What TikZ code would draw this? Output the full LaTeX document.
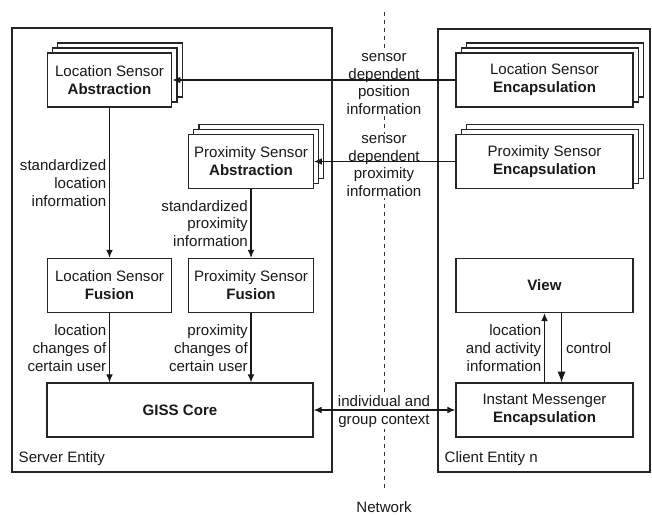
\documentclass[tikz,border=0pt]{standalone}
\usepackage{fontspec}
\setmainfont{Liberation Sans}
\usetikzlibrary{arrows.meta,shadows}

\begin{document}
\begin{tikzpicture}[x=0.75pt, y=-0.75pt,
    every node/.style={font=\fontsize{11.3}{13.4}\selectfont, align=center, text=black!90},
    block/.style={draw=black!85, line width=0.9pt, fill=white, minimum width=93.5pt, minimum height=40.5pt, inner sep=1pt},
    wideblock/.style={block, minimum width=132.75pt},
    stack/.style={double copy shadow={shadow xshift=3.9pt, shadow yshift=3.75pt}},
    frame/.style={draw=black!85, line width=0.9pt},
    flow/.style={-{Latex[length=6pt,width=5pt]}, draw=black!90, line width=0.85pt},
    lbl/.style={fill=white, inner sep=1pt}]
    \useasboundingbox (0,0) rectangle (652,514);

    % Entities
    \draw[frame] (12,28) rectangle (332,472);
    \draw[frame] (438,29) rectangle (650,472);
    \node[anchor=west] (server) at (14,459) {Server Entity};
    \node[anchor=west] (client) at (440,459) {Client Entity n};

    % Network border
    \draw[black!80, line width=0.7pt, dash pattern=on 3pt off 3pt] (384,12) -- (384,490);
    \node (net) at (384,507) {Network};

    % Server side
    \node[block, stack] (lsa) at (109.5,80) {Location Sensor\\\textbf{Abstraction}};
    \node[block, stack] (psa) at (251,161.5) {Proximity Sensor\\\textbf{Abstraction}};
    \node[block] (lsf) at (109.5,285.5) {Location Sensor\\\textbf{Fusion}};
    \node[block] (psf) at (251,285.5) {Proximity Sensor\\\textbf{Fusion}};
    \node[block, minimum width=199.5pt] (giss) at (180,410) {\textbf{GISS Core}};

    % Client side
    \node[wideblock, stack] (lse) at (544.5,80) {Location Sensor\\\textbf{Encapsulation}};
    \node[wideblock, stack] (pse) at (544.5,161.5) {Proximity Sensor\\\textbf{Encapsulation}};
    \node[wideblock] (view) at (544.5,285.5) {\textbf{View}};
    \node[wideblock] (im) at (544.5,410) {Instant Messenger\\\textbf{Encapsulation}};

    % Labels across the network
    \node[lbl] (posinfo) at (384,84) {sensor\\dependent\\position\\information};
    \node[lbl] (proxinfo) at (384,166) {sensor\\dependent\\proximity\\information};
    \node[lbl] (context) at (384,412) {individual and\\group context};

    % Flows
    \draw[flow] (lse.west) -- (lsa.east);
    \draw[flow] (pse.west) -- (psa.east);
    \draw[flow] (lsa.south) -- (lsf.north)
        node[midway, left, align=right, inner sep=2pt] {standardized\\location\\information};
    \draw[flow] (psa.south) -- (psf.north)
        node[midway, left, align=right, inner sep=2pt] {standardized\\proximity\\information};
    \draw[flow] (lsf.south) -- (lsf |- giss.north)
        node[midway, left, align=right, inner sep=2pt] {location\\changes of\\certain user};
    \draw[flow] (psf.south) -- (psf |- giss.north)
        node[midway, left, align=right, inner sep=2pt] {proximity\\changes of\\certain user};
    \draw[flow, {Latex[length=6pt,width=5pt]}-{Latex[length=6pt,width=5pt]}] (giss.east) -- (im.west);
    \draw[flow] (im.north) -- (view.south)
        node[midway, left, align=right, inner sep=2pt] {location\\and activity\\information};
    \draw[flow, -{Latex[length=8pt,width=6pt]}] ([xshift=12.75pt]view.south) -- ([xshift=12.75pt]im.north)
        node[midway, right, inner sep=3pt] {control};
\end{tikzpicture}
\end{document}
